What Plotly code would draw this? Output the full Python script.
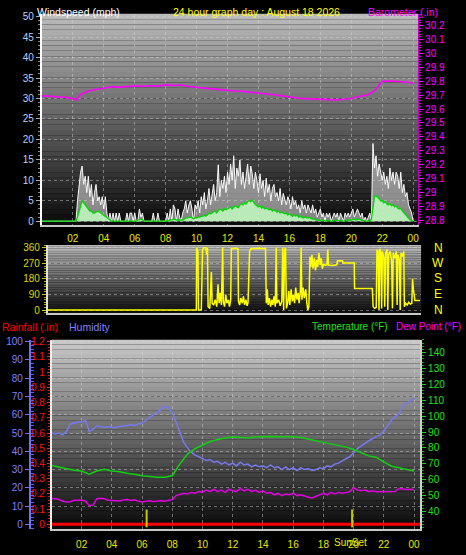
import plotly.graph_objects as go

W, H = 466, 555

# ---------------- data ----------------
hour_ticks = [2, 4, 6, 8, 10, 12, 14, 16, 18, 20, 22, 24]
hour_labels = ["02", "04", "06", "08", "10", "12", "14", "16", "18", "20", "22", "00"]

# wind speed, 0.1 h steps (0.0 .. 24.0)
wind_hours = [round(i * 0.1, 1) for i in range(241)]
gust_mph = [
    0, 0, 0, 0, 0, 0, 0, 0, 0, 0,
    0, 0, 0, 0, 0, 0, 0, 0, 0, 0,
    0, 0, 0, 5, 9, 12, 13.5, 9, 11, 7,
    11, 6, 9, 4, 7, 9, 5, 6, 4, 6,
    3, 6, 2, 0, 2, 0, 2, 0, 2, 0,
    2, 0, 0, 0, 0, 2, 0, 2, 2, 0,
    2, 0, 0, 3, 1, 2, 0, 0, 0, 0,
    0, 0, 2, 0, 0, 2, 0, 0, 0, 0,
    0, 2, 0, 3, 0, 4, 3, 0, 3, 1,
    0, 2, 3, 5, 2, 4, 5, 3, 0, 4,
    3, 5, 2, 6, 4, 7, 3, 5, 8, 4,
    6, 9, 5, 7, 13.8, 6, 10, 8, 11, 7,
    12, 9, 14, 10, 16, 8, 13, 11, 15, 9,
    12, 8, 11, 14, 9, 13.5, 11.6, 8, 12, 10,
    7, 11.6, 8, 10, 6, 10.5, 7, 9, 5, 8,
    9, 6, 7, 5, 8, 4, 6.8, 5, 4, 6,
    5, 3, 6, 4, 5, 3, 4, 2, 5, 3,
    4, 2, 4, 3, 2, 4, 2, 3, 1, 2,
    3, 1, 2, 0, 2, 1, 2, 0, 1, 2,
    1, 2, 0, 2, 1, 0, 2, 1, 2, 1,
    2, 3, 1, 2, 3, 2, 1, 2, 0, 1,
    0, 1, 2, 0, 19, 13, 16, 11, 14, 12,
    10, 12, 9, 11, 8, 13, 10, 12, 9, 12,
    11, 8, 12, 7, 9, 6, 7, 4, 3, 2,
    0,
]
avg_mph = [
    0, 0, 0, 0, 0, 0, 0, 0, 0, 0,
    0, 0, 0, 0, 0, 0, 0, 0, 0, 0,
    0, 0, 0, 1, 2.5, 4, 5, 4.5, 4, 3.5,
    3, 2.5, 2.5, 2, 2, 2.2, 2.5, 2.3, 2, 1.8,
    1.5, 1.2, 0.8, 0.4, 0.2, 0, 0, 0, 0, 0,
    0, 0, 0, 0, 0, 0, 0, 0, 0, 0,
    0, 0, 0.3, 0.5, 0.5, 0.3, 0, 0, 0, 0,
    0, 0, 0, 0, 0, 0, 0, 0, 0, 0,
    0, 0, 0.2, 0.3, 0.3, 0.5, 0.5, 0.3, 0.3, 0.2,
    0.2, 0.3, 0.5, 0.8, 0.8, 1, 1, 0.8, 0.6, 0.8,
    0.8, 1, 1, 1.2, 1.2, 1.5, 1.3, 1.5, 2, 1.8,
    2, 2.2, 2.5, 2, 2.5, 3, 2.8, 2.5, 3, 2.8,
    3, 3.2, 3.5, 3, 3.5, 3.8, 3.5, 3.3, 4, 4.2,
    4, 4.5, 4.2, 4.8, 5, 4.8, 5.2, 4.5, 4, 3.8,
    3.5, 3.8, 3.2, 3.5, 3, 3.2, 3, 2.8, 3, 2.5,
    2.8, 2.5, 2.2, 2.5, 2, 2.2, 2, 1.8, 2, 1.5,
    1.8, 1.5, 1.2, 1.5, 1.3, 1.5, 1, 1.2, 1, 0.8,
    1, 0.8, 0.8, 1, 0.6, 0.5, 0.5, 0.3, 0.2, 0.2,
    0.2, 0.3, 0.2, 0, 0, 0.2, 0.2, 0, 0, 0.2,
    0.2, 0.3, 0.2, 0.2, 0, 0, 0.2, 0.3, 0.3, 0.2,
    0.3, 0.5, 0.5, 0.3, 0.5, 0.5, 0.3, 0.2, 0, 0,
    0, 0, 0, 0.5, 3, 6, 6.3, 6, 5.5, 5,
    5, 4.5, 4.8, 4.2, 4, 4.3, 3.8, 4, 3.5, 3.8,
    3.2, 3, 3.2, 2.5, 2, 1.5, 1, 0.5, 0.3, 0.2,
    0,
]

baro_hours = [0, 0.5, 1, 1.5, 2, 2.25, 2.5, 3, 3.5, 4, 4.5, 5, 5.5, 6, 6.5, 7, 7.5, 8, 8.5, 9,
              9.5, 10, 10.5, 11, 11.5, 12, 12.5, 13, 13.5, 14, 14.5, 15, 15.5, 16, 16.5, 17,
              17.5, 18, 18.5, 19, 19.5, 20, 20.5, 21, 21.5, 22, 22.5, 23, 23.5, 24]
baro_in = [29.695, 29.693, 29.69, 29.685, 29.675, 29.667, 29.705, 29.73, 29.74, 29.752,
           29.76, 29.758, 29.762, 29.766, 29.764, 29.768, 29.765, 29.774, 29.77, 29.773,
           29.762, 29.755, 29.75, 29.745, 29.74, 29.733, 29.73, 29.727, 29.722, 29.716,
           29.71, 29.703, 29.695, 29.686, 29.679, 29.675, 29.672, 29.670, 29.668, 29.666,
           29.670, 29.676, 29.690, 29.700, 29.730, 29.800, 29.802, 29.800, 29.795, 29.785]

dir_hours = [0.0, 9.98, 10.0, 10.08, 10.12, 10.3, 10.38, 10.45, 10.6, 10.65, 10.7, 10.74, 10.85,
             10.95, 11.0, 11.1, 11.2, 11.3, 11.38, 11.45, 11.52, 11.6, 11.68, 11.72, 11.8, 11.88,
             11.95, 12.05, 12.12, 12.2, 12.24, 12.45, 12.67, 12.7, 12.78, 12.85, 12.95, 13.02,
             13.1, 13.18, 13.26, 13.32, 13.42, 13.5, 14.0, 14.45, 14.5, 14.56, 14.62, 14.7, 14.78,
             14.86, 14.92, 15.0, 15.08, 15.14, 15.18, 15.3, 15.4, 15.5, 15.56, 15.62, 15.68, 15.74,
             15.8, 15.88, 15.95, 16.02, 16.1, 16.18, 16.25, 16.33, 16.4, 16.48, 16.56, 16.62, 16.7,
             16.75, 16.8, 16.88, 16.95, 17.05, 17.12, 17.18, 17.25, 17.32, 17.38, 17.45, 17.52,
             17.6, 17.68, 17.75, 17.82, 17.9, 17.98, 18.05, 18.12, 18.2, 18.3, 18.42, 18.47, 18.52,
             18.8, 19.05, 19.1, 19.42, 19.45, 20.18, 20.2, 21.35, 21.4, 21.5, 21.6, 21.65, 21.72,
             21.78, 21.83, 21.9, 21.95, 22.0, 22.1, 22.15, 22.2, 22.3, 22.35, 22.4, 22.5, 22.6,
             22.65, 22.7, 22.8, 22.9, 22.95, 23.0, 23.1, 23.15, 23.2, 23.3, 23.38, 23.42, 23.5,
             23.6, 23.7, 23.8, 23.9, 23.95, 24.0, 24.1, 24.43]
dir_deg = [0, 0, 360, 340, 0, 0, 350, 360, 360, 320, 360, 20, 10,
           220, 40, 30, 60, 20, 150, 40, 100, 30, 360, 50, 20, 90,
           40, 60, 20, 60, 355, 358, 355, 50, 30, 70, 40, 80,
           30, 60, 25, 45, 340, 355, 358, 355, 40, 120, 30, 70, 20,
           60, 30, 80, 20, 360, 40, 60, 25, 50, 360, 0, 350, 360,
           10, 40, 110, 30, 120, 50, 90, 40, 130, 60, 100, 40, 110,
           360, 60, 130, 70, 120, 40, 0, 20, 310, 250, 320, 240,
           300, 230, 290, 250, 330, 260, 300, 240, 265, 260, 262, 350, 260,
           258, 262, 285, 285, 272, 272, 125, 125, 20, 10, 15, 350, 340,
           0, 355, 330, 10, 340, 300, 20, 330, 350, 0, 320, 340, 280,
           10, 330, 300, 340, 30, 320, 290, 0, 330, 310, 340, 20, 40,
           30, 45, 35, 40, 183, 120, 55, 55]

# humidity & dew point, 0.25 h steps
th_hours = [i * 0.25 for i in range(97)]
humidity_pct = [
    50, 49.5, 50, 49, 51, 55, 55.5, 56, 56, 57, 51, 52,
    54, 53.5, 53, 53.5, 53, 53, 53.5, 54, 54, 54.5, 54, 55,
    55.5, 57, 58.5, 60, 61.5, 63, 64.5, 64, 61, 56, 50, 45,
    42, 39.5, 38, 37, 36, 35, 35.5, 34, 34.5, 33, 34, 32.5,
    33.5, 32, 34, 32.5, 33, 31.5, 32.5, 31.5, 32, 31, 32.5, 31,
    31.5, 30, 31.5, 30, 31, 29.5, 31, 30, 30.5, 29.5, 30, 31,
    30.5, 32, 31.5, 33, 33.5, 35, 36, 37, 39.5, 41.5, 43, 44.5,
    46, 47, 48, 49, 51, 54, 57, 59, 60.5, 65, 66.5, 67.5,
    69,
]
dew_f = [
    48.3, 48, 47.5, 46.5, 46, 46.2, 47, 47, 47.2, 46.5, 43.8, 44,
    48, 48.3, 48, 47, 46.8, 47, 46.6, 47.2, 47.5, 47, 47.4, 46.5,
    46, 46.5, 46.8, 46.3, 46.6, 46.8, 46.5, 47, 47.5, 50, 51, 51.5,
    51, 52, 51.5, 52.5, 52, 53.5, 52.5, 54, 52.5, 53.5, 52, 54,
    53, 52.5, 54.5, 53, 54, 52.5, 53.5, 52, 53, 51.5, 52, 50.5,
    51.5, 50, 51, 50.5, 51.5, 50, 50.5, 49.5, 49, 48.5, 49.5, 50,
    51.5, 50.5, 52, 51, 52, 51.5, 52, 52.5, 55, 53.5, 53, 53.5,
    52.5, 53, 52.5, 52.5, 52.2, 52.5, 52.3, 52.6, 54.5, 54, 53.8, 54,
    53.9,
]

temp_hours = [i * 0.5 for i in range(49)]
temp_f = [69, 68, 67, 66, 65.5, 63.5, 65.5, 66.5, 65.5, 65, 64, 63.5, 62.5, 62, 61.5, 61.5,
          62.5, 70, 76, 79.5, 82, 84, 85.3, 86.3, 86.8, 86.5, 86.3, 86.8, 87.2, 87.2, 87, 87,
          87, 86.5, 85.3, 84.5, 83.5, 82.5, 81.5, 80.5, 79, 77, 75, 74, 71, 68.5, 67.5, 66.5,
          65.5]

rain_hours = [0, 24.4]
rain_in = [0, 0]

sun_events = [6.3, 19.9]   # sunrise, sunset (hours)

# ---------------- helpers ----------------
def fx(px):
    return px / W


def fy(py):
    return 1 - py / H


def gradient(xref, yref, top, bot, n=40):
    out = []
    for i in range(n):
        t = i / (n - 1)
        c = [round(top[k] + (bot[k] - top[k]) * t) for k in range(3)]
        out.append(dict(type="rect", xref=xref, yref=yref, x0=0, x1=1,
                        y0=1 - (i + 1) / n, y1=1 - i / n,
                        fillcolor="rgb(%d,%d,%d)" % tuple(c),
                        line=dict(width=0), layer="below"))
    return out


FONT = "Liberation Sans, Arial, sans-serif"
GRID = "rgba(215,215,215,0.45)"
YEL = "#e8e800"

fig = go.Figure()

# panel 1: wind
fig.add_trace(go.Scatter(x=wind_hours, y=gust_mph, mode="lines", xaxis="x", yaxis="y",
                         line=dict(color="rgba(255,255,255,0.95)", width=1),
                         fill="tozeroy", fillcolor="rgba(215,215,215,0.6)"))
fig.add_trace(go.Scatter(x=wind_hours, y=avg_mph, mode="lines", xaxis="x", yaxis="y",
                         line=dict(width=0), fill="tozeroy",
                         fillcolor="rgba(195,250,195,0.85)"))
fig.add_trace(go.Scatter(x=wind_hours, y=avg_mph, mode="lines", xaxis="x", yaxis="y",
                         line=dict(color="#00d800", width=1.3)))
fig.add_trace(go.Scatter(x=baro_hours, y=baro_in, mode="lines", xaxis="x", yaxis="y2",
                         line=dict(color="#ff00ff", width=1.6)))
# panel 2: direction
fig.add_trace(go.Scatter(x=dir_hours, y=dir_deg, mode="lines", xaxis="x2", yaxis="y3",
                         line=dict(color="#ffff00", width=1.5)))
# panel 3
fig.add_trace(go.Scatter(x=rain_hours, y=rain_in, mode="lines", xaxis="x3", yaxis="y4",
                         line=dict(color="#ff0000", width=3)))
fig.add_trace(go.Scatter(x=th_hours, y=humidity_pct, mode="lines", xaxis="x3", yaxis="y5",
                         line=dict(color="#7878f0", width=1.5)))
fig.add_trace(go.Scatter(x=temp_hours, y=temp_f, mode="lines", xaxis="x3", yaxis="y6",
                         line=dict(color="#10d010", width=1.5)))
fig.add_trace(go.Scatter(x=th_hours, y=dew_f, mode="lines", xaxis="x3", yaxis="y6",
                         line=dict(color="#e000e0", width=1.5)))

tickfont = dict(family=FONT, size=10)

shapes = []
shapes += gradient("x domain", "y domain", (185, 185, 185), (12, 12, 12))
shapes += gradient("x2 domain", "y3 domain", (185, 185, 185), (14, 14, 14))
shapes += gradient("x3 domain", "y4 domain", (200, 200, 200), (10, 10, 10))
for h in sun_events:
    shapes.append(dict(type="line", xref="x3", yref="paper", x0=h, x1=h,
                       y0=fy(530), y1=fy(512), line=dict(color="#c8c800", width=2)))

annotations = [
    dict(text="Windspeed (mph)", x=fx(35), y=fy(8), xanchor="left", font=dict(color="white")),
    dict(text="24 hour graph day : August 18 2026", x=fx(257), y=fy(8), xanchor="center",
         font=dict(color="#ffff00")),
    dict(text="Barometer (.in)", x=fx(441), y=fy(8), xanchor="right", font=dict(color="#ff00ff")),
    dict(text="Rainfall (.in)", x=fx(0), y=fy(327), xanchor="left", font=dict(color="#ff0000")),
    dict(text="Humidity", x=fx(67), y=fy(327), xanchor="left", font=dict(color="#8080ff")),
    dict(text="Temperature (°F)", x=fx(311), y=fy(327), xanchor="left",
         font=dict(color="#20e020", size=10)),
    dict(text="Dew Point (°F)", x=fx(464), y=fy(327), xanchor="right",
         font=dict(color="#ff00ff", size=10)),
    dict(text="SunSet", x=fx(351), y=fy(545), xanchor="center", font=dict(color=YEL, size=10)),
]
for lbl, py in zip(["N", "W", "S", "E", "N"], [247, 262, 278, 294, 310]):
    annotations.append(dict(text=lbl, x=fx(439), y=fy(py), xanchor="center",
                            font=dict(color="#ffff00", size=12)))
for a in annotations:
    a.update(xref="paper", yref="paper", yanchor="middle", showarrow=False)
    a["font"].setdefault("size", 10.5)
    a["font"]["family"] = FONT

fig.update_layout(
    width=W, height=H, margin=dict(l=0, r=0, t=0, b=0),
    paper_bgcolor="black", plot_bgcolor="black", showlegend=False,
    shapes=shapes, annotations=annotations,
    xaxis=dict(domain=[fx(42), fx(419)], range=[0, 24.32], anchor="y",
               tickvals=hour_ticks, ticktext=hour_labels, tickfont=dict(color=YEL, **tickfont),
               ticks="outside", ticklen=3, tickcolor="black",
               showgrid=True, gridcolor=GRID, griddash="dot", zeroline=False,
               showline=True, linecolor="#c8c8c8", linewidth=2),
    yaxis=dict(domain=[fy(224), fy(10)], range=[-0.97, 50.7], anchor="x",
               tickvals=list(range(0, 51, 5)), tickfont=dict(color="#b8d0ff", **tickfont),
               ticks="outside", ticklen=4, tickcolor="#a8a8a8",
               minor=dict(dtick=1, ticklen=2, tickcolor="#888888", ticks="outside", showgrid=False),
               showgrid=True, gridcolor=GRID, griddash="dot", zeroline=False,
               showline=True, linecolor="white", linewidth=2),
    yaxis2=dict(overlaying="y", side="right", anchor="x", range=[28.764, 30.285],
                tickvals=[28.8, 28.9, 29.0, 29.1, 29.2, 29.3, 29.4, 29.5, 29.6, 29.7, 29.8,
                          29.9, 30.0, 30.1, 30.2],
                ticktext=["28.8", "28.9", "29", "29.1", "29.2", "29.3", "29.4", "29.5", "29.6",
                          "29.7", "29.8", "29.9", "30", "30.1", "30.2"],
                tickfont=dict(color="#ff00ff", **tickfont),
                ticks="outside", ticklen=4, tickcolor="#ff00ff",
                minor=dict(dtick=0.02, ticklen=2, tickcolor="#d000d0", ticks="outside"),
                showgrid=False, zeroline=False,
                showline=True, linecolor="#c000c0", linewidth=1),
    xaxis2=dict(domain=[fx(48), fx(422)], range=[0.39, 24.5], anchor="y3",
                showticklabels=False, showgrid=False, zeroline=False,
                showline=True, linecolor="#c8c8c8", linewidth=2),
    yaxis3=dict(domain=[fy(313), fy(244)], range=[-17, 377], anchor="x2",
                tickvals=[0, 90, 180, 270, 360], tickfont=dict(color="#d8d800", **tickfont),
                ticks="outside", ticklen=4, tickcolor="#c8c800",
                minor=dict(dtick=15, ticklen=2, tickcolor="#b0b000", ticks="outside"),
                showgrid=True, gridcolor=GRID, griddash="dot", zeroline=False,
                showline=True, linecolor="#e0e0e0", linewidth=2),
    xaxis3=dict(domain=[fx(52), fx(421)], range=[0.03, 24.4], anchor="y4",
                tickvals=hour_ticks, ticktext=hour_labels, tickfont=dict(color=YEL, **tickfont),
                ticks="outside", ticklen=5, tickcolor="black",
                showgrid=True, gridcolor=GRID, griddash="dot", zeroline=False,
                showline=True, linecolor="#c8c8c8", linewidth=2),
    yaxis4=dict(domain=[fy(532), fy(340)], range=[-0.0324, 1.213], anchor="x3",
                tickvals=[0, 0.1, 0.2, 0.3, 0.4, 0.5, 0.6, 0.7, 0.8, 0.9, 1.0, 1.1, 1.2],
                ticktext=["0", "0.1", "0.2", "0.3", "0.4", "0.5", "0.6", "0.7", "0.8", "0.9",
                          "1", "1.1", "1.2"],
                tickfont=dict(color="#ff1010", **tickfont),
                ticks="outside", ticklen=3, tickcolor="#ff2020",
                minor=dict(dtick=0.02, ticklen=2, tickcolor="#e01010", ticks="outside"),
                showgrid=False, zeroline=False,
                showline=True, linecolor="#f0f0f0", linewidth=2),
    yaxis5=dict(overlaying="y4", side="left", anchor="free", position=fx(30),
                range=[-2.7, 101.1], tickvals=list(range(0, 101, 10)),
                tickfont=dict(color="#8080ff", **tickfont),
                ticks="outside", ticklen=4, tickcolor="#7070ff",
                minor=dict(dtick=2, ticklen=3, tickcolor="#6060e0", ticks="inside"),
                showgrid=True, gridcolor=GRID, griddash="dot", zeroline=False,
                showline=True, linecolor="#7070ff", linewidth=2),
    yaxis6=dict(overlaying="y4", side="right", anchor="x3", range=[28.8, 148.1],
                tickvals=list(range(40, 141, 10)), tickfont=dict(color="#20e020", **tickfont),
                ticks="outside", ticklen=4, tickcolor="#20d020",
                minor=dict(dtick=2, ticklen=2, tickcolor="#10b010", ticks="outside"),
                showgrid=False, zeroline=False,
                showline=True, linecolor="#d0d0d0", linewidth=2),
)

fig.write_html("out.html", config={"displayModeBar": False},
               post_script="document.body.style.margin='0';document.body.style.overflow='hidden';")
